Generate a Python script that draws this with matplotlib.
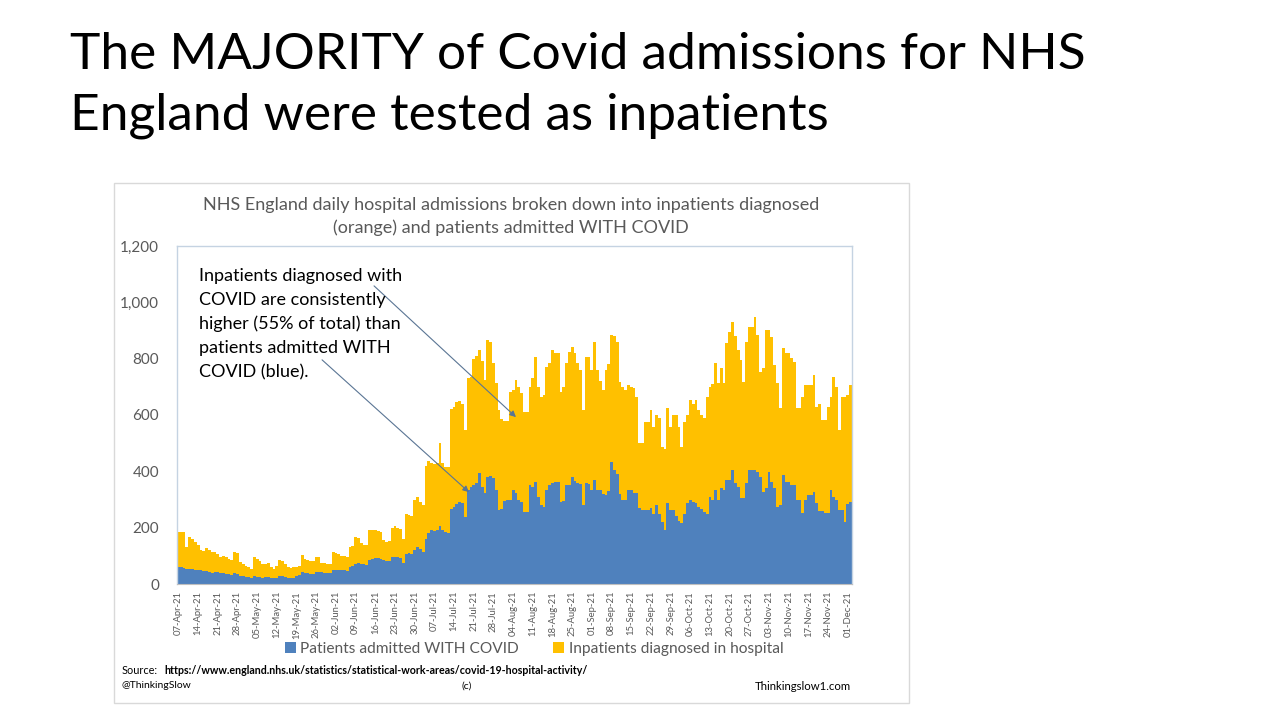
import numpy as np
import matplotlib
matplotlib.use("Agg")
import matplotlib.pyplot as plt
from matplotlib.patches import Rectangle, FancyArrowPatch

# ---------------- data ----------------
blue_admitted = [
    62, 60, 58, 52, 55, 52, 50, 50, 48, 45, 45, 42, 40, 42,
    42, 40, 38, 36, 34, 32, 38, 36, 30, 28, 26, 24, 22, 30,
    26, 24, 22, 25, 26, 22, 20, 22, 28, 27, 25, 21, 20, 22,
    28, 32, 42, 40, 38, 37, 36, 42, 44, 42, 40, 40, 38, 48,
    50, 50, 48, 48, 46, 60, 65, 72, 74, 72, 70, 68, 85, 90,
    92, 92, 90, 85, 82, 80, 95, 95, 96, 92, 75, 105, 110, 108,
    120, 130, 125, 115, 160, 180, 190, 188, 190, 205, 190, 185, 182, 265,
    275, 285, 290, 288, 238, 335, 345, 350, 358, 393, 345, 323, 380, 382,
    375, 335, 263, 265, 295, 298, 300, 334, 323, 300, 291, 255, 255, 350,
    345, 362, 309, 280, 273, 334, 350, 358, 362, 362, 291, 295, 352, 352,
    380, 365, 360, 355, 280, 358, 355, 334, 369, 334, 334, 320, 315, 330,
    433, 405, 390, 320, 300, 298, 334, 334, 323, 323, 270, 263, 263, 263,
    270, 250, 280, 250, 220, 192, 287, 263, 263, 240, 225, 216, 250, 287,
    298, 290, 287, 275, 265, 255, 250, 309, 300, 334, 300, 341, 335, 369,
    369, 405, 360, 345, 305, 305, 358, 405, 405, 405, 398, 380, 327, 340,
    398, 362, 340, 273, 280, 387, 362, 362, 352, 352, 300, 298, 252, 298,
    316, 316, 327, 287, 260, 260, 252, 252, 334, 309, 300, 263, 263, 220,
    284, 290,
]

inpatients_diagnosed = [
    124, 126, 126, 80, 113, 108, 100, 90, 74, 73, 83, 78, 72, 73,
    63, 57, 62, 59, 56, 53, 77, 74, 48, 44, 39, 36, 33, 67,
    62, 56, 48, 47, 49, 38, 35, 43, 57, 55, 45, 39, 38, 38,
    34, 33, 61, 48, 47, 45, 44, 55, 51, 33, 34, 32, 32, 67,
    60, 55, 52, 50, 49, 72, 70, 96, 91, 73, 70, 70, 105, 102,
    98, 96, 95, 70, 68, 72, 103, 110, 104, 103, 85, 145, 135, 132,
    180, 180, 165, 165, 260, 255, 240, 237, 240, 295, 240, 230, 233, 355,
    355, 360, 360, 352, 309, 395, 390, 450, 452, 437, 445, 402, 486, 478,
    410, 380, 354, 320, 285, 280, 380, 355, 401, 400, 387, 356, 356, 350,
    385, 444, 391, 385, 397, 436, 435, 472, 458, 458, 391, 405, 433, 471,
    463, 455, 425, 405, 337, 448, 451, 426, 491, 426, 386, 370, 445, 450,
    451, 475, 470, 397, 400, 392, 372, 366, 372, 342, 230, 237, 312, 312,
    347, 308, 320, 339, 267, 288, 338, 295, 337, 360, 333, 271, 325, 313,
    355, 350, 366, 342, 335, 334, 415, 391, 410, 450, 413, 426, 378, 486,
    526, 525, 520, 485, 490, 412, 502, 508, 508, 543, 486, 373, 440, 562,
    504, 515, 438, 440, 345, 451, 458, 458, 450, 436, 325, 327, 413, 408,
    390, 390, 415, 342, 380, 322, 330, 377, 331, 426, 400, 284, 402, 445,
    386, 416,
]

tick_labels = [
    "07-Apr-21", "14-Apr-21", "21-Apr-21", "28-Apr-21", "05-May-21", "12-May-21",
    "19-May-21", "26-May-21", "02-Jun-21", "09-Jun-21", "16-Jun-21", "23-Jun-21",
    "30-Jun-21", "07-Jul-21", "14-Jul-21", "21-Jul-21", "28-Jul-21", "04-Aug-21",
    "11-Aug-21", "18-Aug-21", "25-Aug-21", "01-Sep-21", "08-Sep-21", "15-Sep-21",
    "22-Sep-21", "29-Sep-21", "06-Oct-21", "13-Oct-21", "20-Oct-21", "27-Oct-21",
    "03-Nov-21", "10-Nov-21", "17-Nov-21", "24-Nov-21", "01-Dec-21",
]

series_names = ["Patients admitted WITH COVID", "Inpatients diagnosed in hospital"]

# ---------------- figure ----------------
W, H = 1280, 720
plt.rcParams["font.family"] = ["Lato", "DejaVu Sans"]
fig = plt.figure(figsize=(W / 100, H / 100), dpi=100)
fig.patch.set_facecolor("white")

def fx(px):
    return px / W

def fy(py):
    return 1 - py / H

# Slide title
fig.text(fx(70), fy(55), "The MAJORITY of Covid admissions for NHS",
         fontsize=37, color="black", va="center", ha="left")
fig.text(fx(70), fy(116), "England were tested as inpatients",
         fontsize=37, color="black", va="center", ha="left")

# chart frame
fig.patches.append(Rectangle((fx(114), fy(703)), fx(909) - fx(114), fy(183) - fy(703),
                             transform=fig.transFigure, fill=False,
                             edgecolor="#D9D9D9", linewidth=1))

ax = fig.add_axes([fx(177), fy(584), fx(852) - fx(177), fy(246) - fy(584)])
n = len(blue_admitted)
x = np.arange(n)
blue_col = "#4F81BD"
gold_col = "#FFC000"
b1 = ax.bar(x, blue_admitted, width=1.0, color=blue_col, linewidth=0,
            label=series_names[0])
b2 = ax.bar(x, inpatients_diagnosed, bottom=blue_admitted, width=1.0,
            color=gold_col, linewidth=0, label=series_names[1])

ax.set_xlim(-0.5, n - 0.5)
ax.set_ylim(0, 1200)
ax.set_yticks(range(0, 1201, 200))
ax.set_yticklabels([f"{v:,}" for v in range(0, 1201, 200)], fontsize=11, color="#595959")
ax.set_xticks(np.arange(0, n, 7)[:len(tick_labels)])
ax.set_xticklabels(tick_labels, rotation=90, fontsize=6.8, color="#595959")
ax.tick_params(axis="both", length=0)
ax.tick_params(axis="y", pad=13)
ax.tick_params(axis="x", pad=5)
for s in ["top", "right", "left"]:
    ax.spines[s].set_color("#C5D3E2")
    ax.spines[s].set_linewidth(1)
ax.spines["bottom"].set_color("#BFBFBF")

# chart title
fig.text(fx(511), fy(205), "NHS England daily hospital admissions broken down into inpatients diagnosed",
         fontsize=13, color="#595959", ha="center", va="center")
fig.text(fx(511), fy(228), "(orange) and patients admitted WITH COVID",
         fontsize=13, color="#595959", ha="center", va="center")

# annotation text
ann_lines = ["Inpatients diagnosed with", "COVID are consistently",
             "higher (55% of total) than", "patients admitted WITH", "COVID (blue)."]
for i, line in enumerate(ann_lines):
    fig.text(fx(199), fy(276 + 24 * i), line, fontsize=13, color="black",
             ha="left", va="center")

arrow_kw = dict(arrowstyle="-|>", color="#5A7594", lw=0.8, mutation_scale=9)
fig.add_artist(FancyArrowPatch(
    (fx(372), fy(284)), (fx(518), fy(419)), transform=fig.transFigure, **arrow_kw))
fig.add_artist(FancyArrowPatch(
    (fx(320), fy(358)), (fx(471), fy(494)), transform=fig.transFigure, **arrow_kw))

# legend
fig.legend(handles=[b1, b2], labels=series_names, loc="center",
           bbox_to_anchor=(fx(534), fy(649)), ncol=2, frameon=False,
           handlelength=0.7, handleheight=0.7, handletextpad=0.3,
           columnspacing=2.2, fontsize=11.2, labelcolor="#595959")

# source / footer
fig.text(fx(122), fy(671), "Source:", fontsize=7.8, color="black", ha="left", va="center")
fig.text(fx(164), fy(671),
         "https://www.england.nhs.uk/statistics/statistical-work-areas/covid-19-hospital-activity/",
         fontsize=7.7, color="black", ha="left", va="center", fontweight="bold")
fig.text(fx(122), fy(686), "@ThinkingSlow", fontsize=7.5, color="black", ha="left", va="center")
fig.text(fx(461), fy(686), "(c)", fontsize=7.5, color="black", ha="left", va="center")
fig.text(fx(755), fy(686), "Thinkingslow1.com", fontsize=8.2, color="black", ha="left", va="center")

fig.savefig("out.png", dpi=100, facecolor="white")
